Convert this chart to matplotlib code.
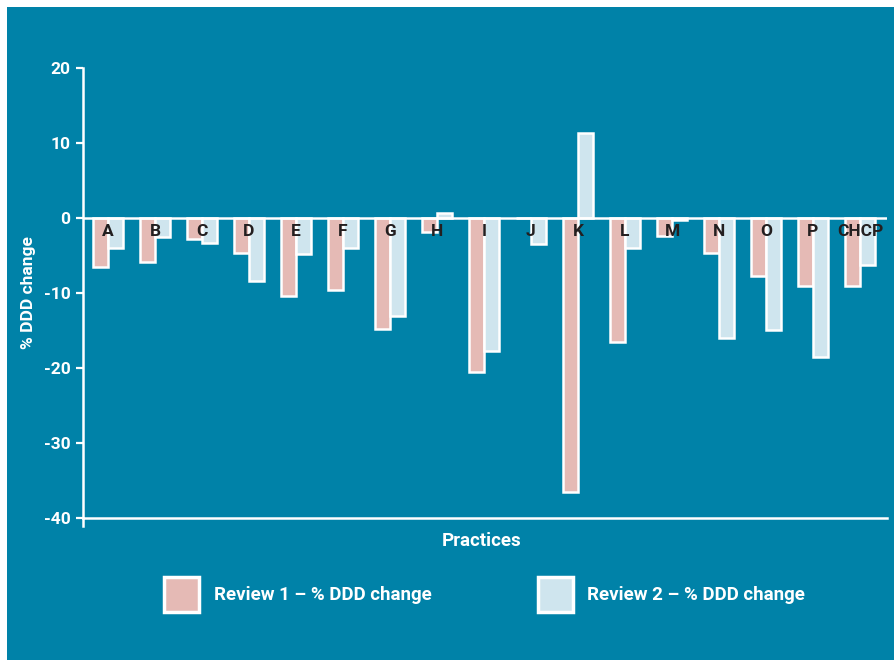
import matplotlib
matplotlib.use('Agg')
import matplotlib.pyplot as plt
from matplotlib.patches import Rectangle
import matplotlib.transforms as mtransforms
import numpy as np

practices = ['A', 'B', 'C', 'D', 'E', 'F', 'G', 'H', 'I', 'J', 'K', 'L', 'M', 'N', 'O', 'P', 'CHCP']
review1 = [-6.5, -5.8, -2.8, -4.6, -10.4, -9.6, -14.8, -1.9, -20.5, 0.0, -36.5, -16.5, -2.4, -4.6, -7.7, -9.0, -9.0]
review2 = [-4.0, -2.5, -3.3, -8.4, -4.8, -4.0, -13.1, 0.7, -17.7, -3.5, 11.4, -4.0, -0.3, -16.0, -14.9, -18.5, -6.3]
series_names = ['Review 1 \u2013 % DDD change', 'Review 2 \u2013 % DDD change']
yticks = [20, 10, 0, -10, -20, -30, -40]

TEAL = '#0082A8'
PINK = '#E5BAB5'
LBLUE = '#CFE5EE'
DARK = '#231F20'
FONT = ['Roboto', 'DejaVu Sans']

W, H = 895, 660
fig = plt.figure(figsize=(W / 100, H / 100), dpi=100)
fig.patch.set_facecolor('white')
fig.patches.append(Rectangle((7 / W, 0), (W - 7) / W, (H - 7) / H,
                             transform=fig.transFigure, facecolor=TEAL,
                             edgecolor='none', zorder=-10))

ax = fig.add_axes([83 / W, 1 - 518 / H, (887 - 83) / W, (518 - 68) / H])
ax.set_facecolor('none')

x = np.arange(len(practices))
bw = 0.31
ax.bar(x - bw / 2, review1, width=bw, color=PINK, edgecolor='white', linewidth=1.8, zorder=3)
ax.bar(x + bw / 2, review2, width=bw, color=LBLUE, edgecolor='white', linewidth=1.8, zorder=3)
ax.axhline(0, color='white', linewidth=1.8, zorder=4)

for xi, name in zip(x, practices):
    ax.text(xi, -1.75, name, ha='center', va='center', color=DARK,
            fontsize=12.5, fontweight='bold', family=FONT, zorder=5)

ax.set_xlim((83 - 108) / 47, (887 - 108) / 47)
ax.set_ylim(-40, 20)
ax.set_yticks(yticks)
ax.set_yticklabels([str(t) for t in yticks])
ax.set_xticks([])
for s in ['top', 'right']:
    ax.spines[s].set_visible(False)
for s in ['left', 'bottom']:
    ax.spines[s].set_color('white')
    ax.spines[s].set_linewidth(1.8)
ax.tick_params(axis='y', colors='white', length=5, width=1.6, pad=4, direction='out')
for lab in ax.get_yticklabels():
    lab.set_fontweight('bold')
    lab.set_fontsize(12.5)
    lab.set_family(FONT)

# small extension of the left spine below the bottom axis
trans = mtransforms.blended_transform_factory(ax.transAxes, ax.transData)
ax.plot([0, 0], [-40, -41.1], color='white', lw=1.8, transform=trans, clip_on=False)

fig.text(29 / W, 1 - 293 / H, '% DDD change', rotation=90, ha='center', va='center',
         color='white', fontsize=12.5, fontweight='bold', family=FONT)
fig.text(482 / W, 1 - 541 / H, 'Practices', ha='center', va='center',
         color='white', fontsize=13.5, fontweight='bold', family=FONT)

# legend
for (sx, tx), col, name in zip([(164, 214), (538, 587)], [PINK, LBLUE], series_names):
    fig.patches.append(Rectangle((sx / W, 1 - 612 / H), 35 / W, 35 / H,
                                 transform=fig.transFigure, facecolor=col,
                                 edgecolor='white', linewidth=2.5))
    fig.text(tx / W, 1 - 595 / H, name, ha='left', va='center', color='white',
             fontsize=13.5, fontweight='bold', family=FONT)

fig.savefig('out.png', dpi=100, facecolor='white')
